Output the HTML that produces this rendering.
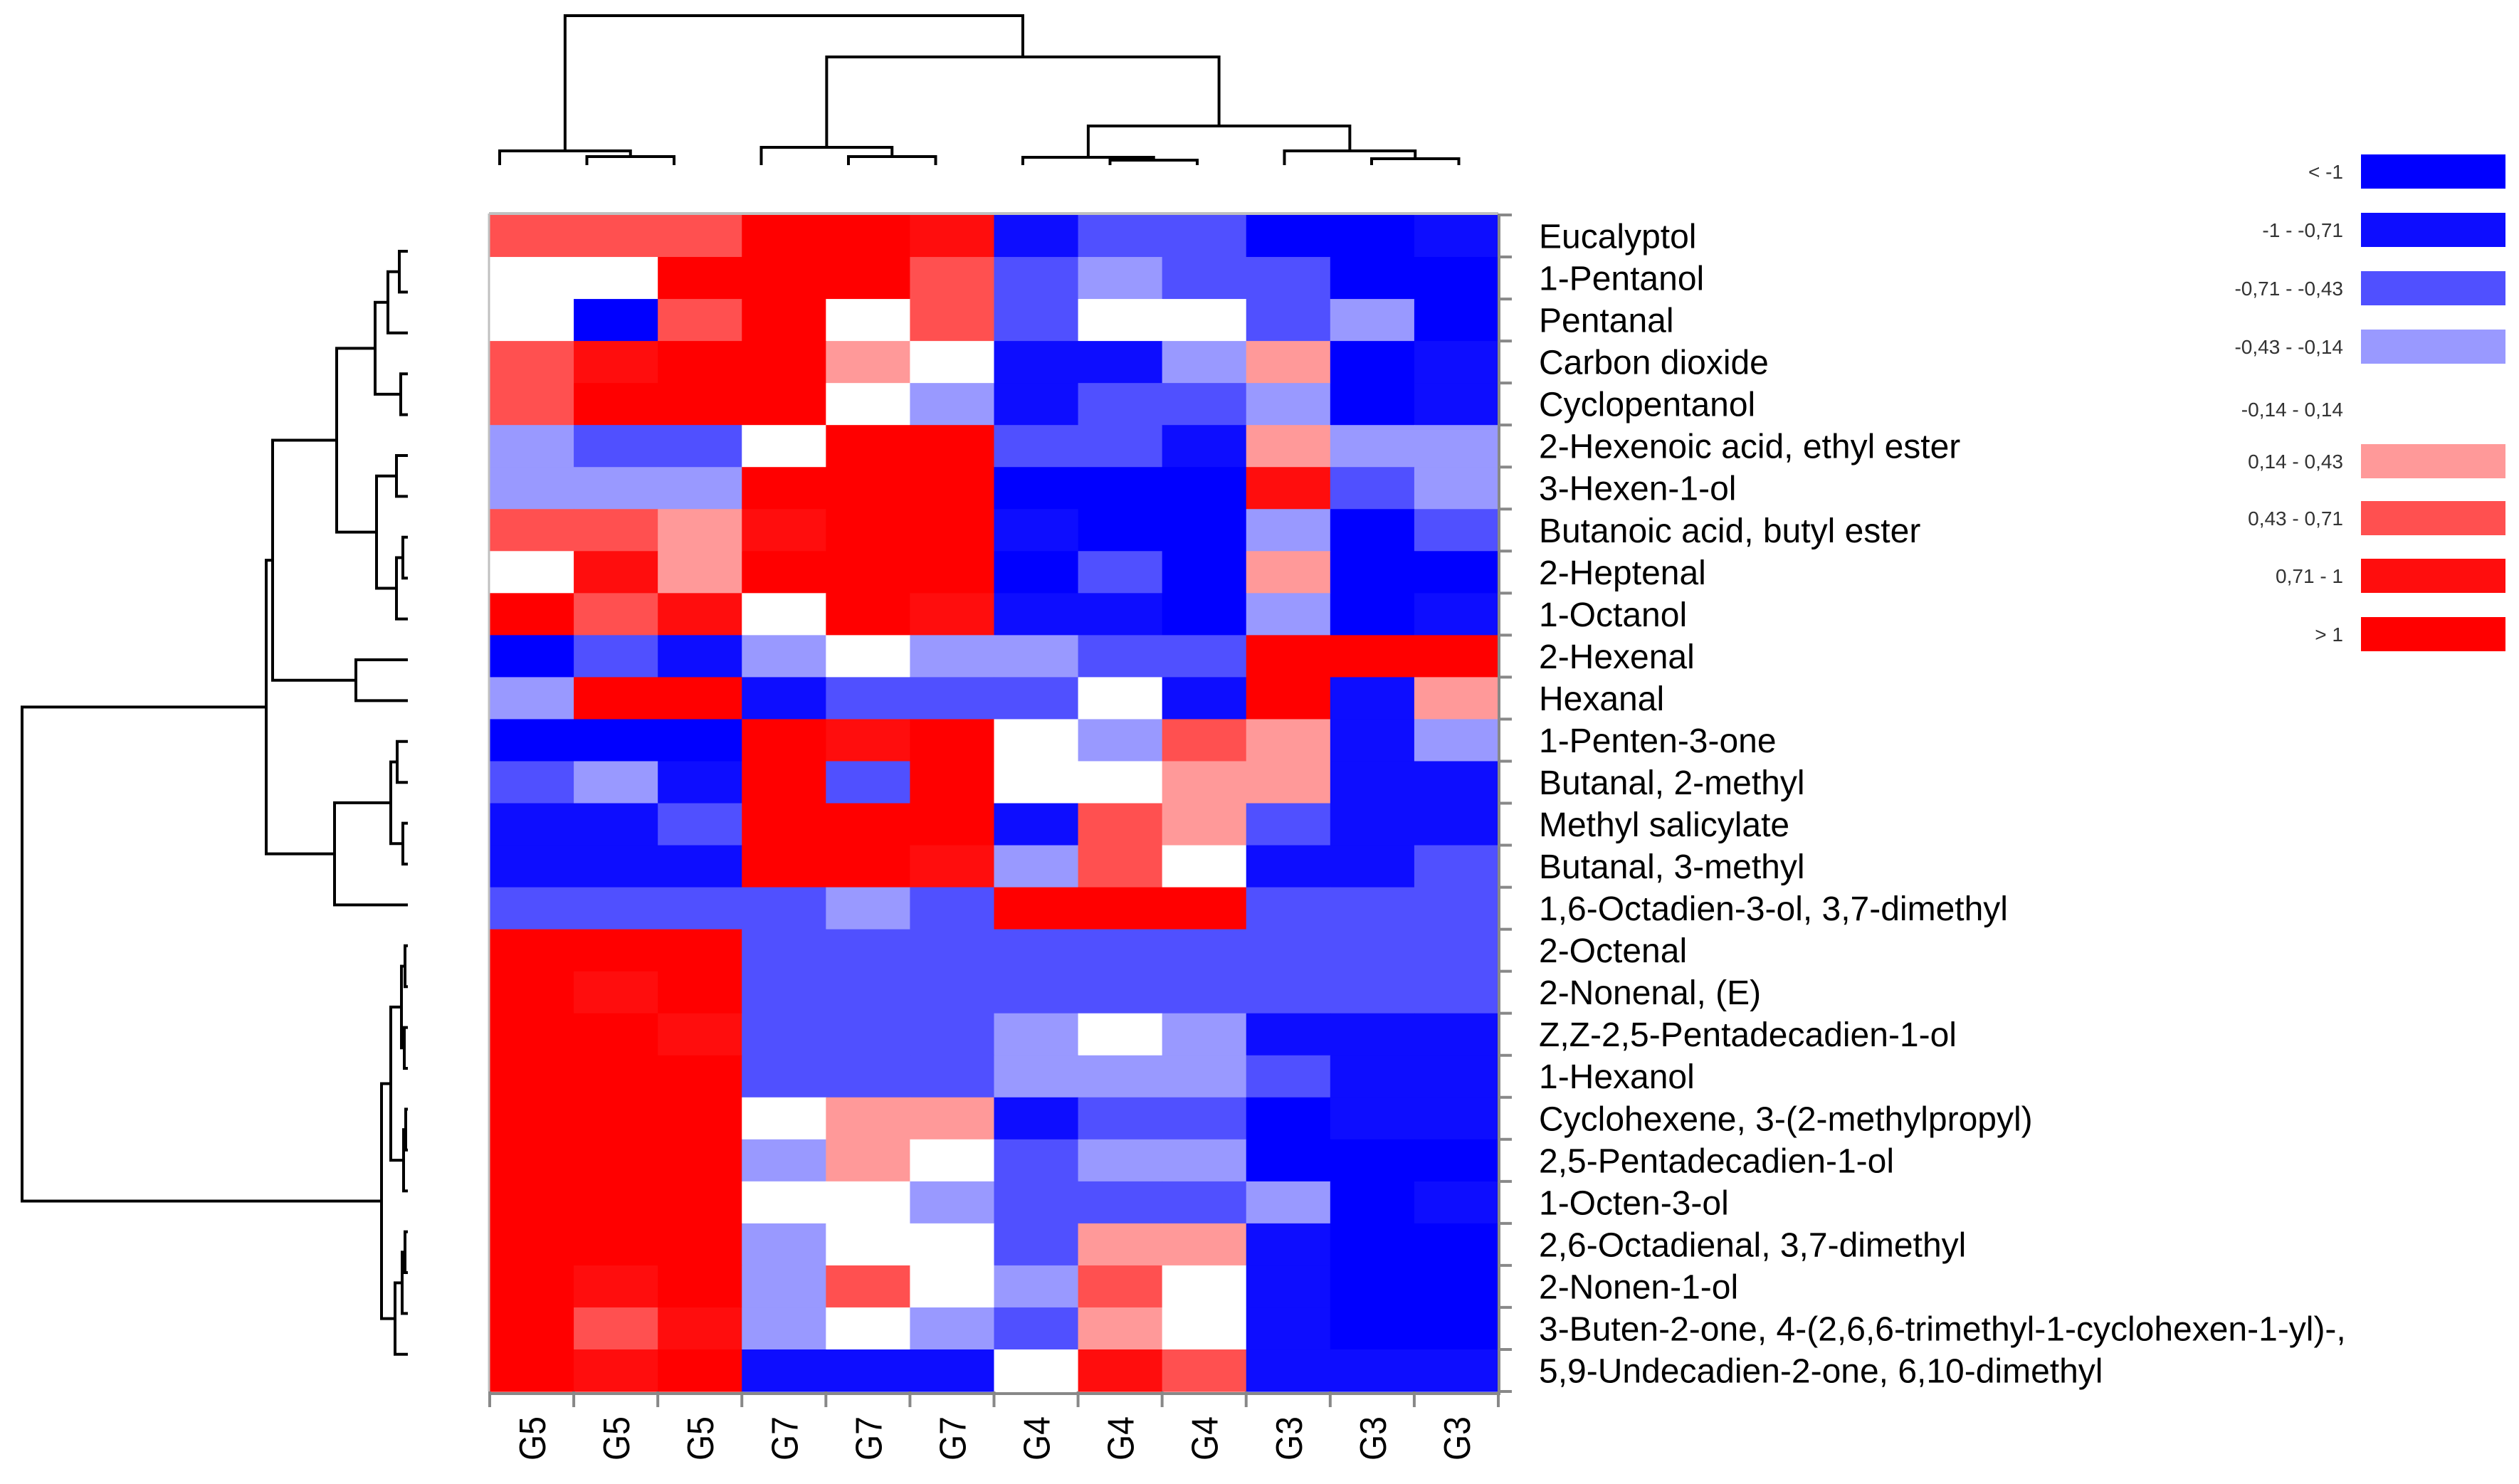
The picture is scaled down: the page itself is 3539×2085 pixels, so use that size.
<!DOCTYPE html>
<html><head><meta charset="utf-8"><title>Heatmap</title>
<style>html,body{margin:0;padding:0;background:#fff}svg{display:block}</style></head>
<body>
<svg id="chart" xmlns="http://www.w3.org/2000/svg" width="3539" height="2085" viewBox="0 0 3539 2085"></svg>
<script>
const rowLabels = ["Eucalyptol","1-Pentanol","Pentanal","Carbon dioxide","Cyclopentanol","2-Hexenoic acid, ethyl ester","3-Hexen-1-ol","Butanoic acid, butyl ester","2-Heptenal","1-Octanol","2-Hexenal","Hexanal","1-Penten-3-one","Butanal, 2-methyl","Methyl salicylate","Butanal, 3-methyl","1,6-Octadien-3-ol, 3,7-dimethyl","2-Octenal","2-Nonenal, (E)","Z,Z-2,5-Pentadecadien-1-ol","1-Hexanol","Cyclohexene, 3-(2-methylpropyl)","2,5-Pentadecadien-1-ol","1-Octen-3-ol","2,6-Octadienal, 3,7-dimethyl","2-Nonen-1-ol","3-Buten-2-one, 4-(2,6,6-trimethyl-1-cyclohexen-1-yl)-,","5,9-Undecadien-2-one, 6,10-dimethyl"];
const colLabels = ["G5","G5","G5","G7","G7","G7","G4","G4","G4","G3","G3","G3"];
const legendLabels = ["< -1","-1 - -0,71","-0,71 - -0,43","-0,43 - -0,14","-0,14 - 0,14","0,14 - 0,43","0,43 - 0,71","0,71 - 1","> 1"];
const legendThresholds = [-1,-0.71,-0.43,-0.14,0.14,0.43,0.71,1];
const A=-1.2,B=-0.85,C=-0.57,D=-0.28,O=0,E=0.28,F=0.57,G=0.85,H=1.2;
const values = [
[F,F,F,H,H,G,B,C,C,A,A,B],
[O,O,H,H,H,F,C,D,C,C,A,A],
[O,A,F,H,O,F,C,O,O,C,D,A],
[F,G,H,H,E,O,B,B,D,E,A,B],
[F,H,H,H,O,D,B,C,C,D,A,B],
[D,C,C,O,H,H,C,C,B,E,D,D],
[D,D,D,H,H,H,A,A,A,G,C,D],
[F,F,E,G,H,H,B,A,A,D,A,C],
[O,G,E,H,H,H,A,C,A,E,A,A],
[H,F,G,O,H,G,B,B,A,D,A,B],
[A,C,B,D,O,D,D,C,C,H,H,H],
[D,H,H,B,C,C,C,O,B,H,B,E],
[A,A,A,H,G,H,O,D,F,E,B,D],
[C,D,B,H,C,H,O,O,E,E,B,B],
[B,B,C,H,H,H,B,F,E,C,B,B],
[B,B,B,H,H,G,D,F,O,B,B,C],
[C,C,C,C,D,C,H,H,H,C,C,C],
[H,H,H,C,C,C,C,C,C,C,C,C],
[H,G,H,C,C,C,C,C,C,C,C,C],
[H,H,G,C,C,C,D,O,D,B,B,B],
[H,H,H,C,C,C,D,D,D,C,B,B],
[H,H,H,O,E,E,B,C,C,A,B,B],
[H,H,H,D,E,O,C,D,D,A,A,A],
[H,H,H,O,O,D,C,C,C,D,A,B],
[H,H,H,D,O,O,C,E,E,B,A,A],
[H,G,H,D,F,O,D,F,O,B,A,A],
[H,F,G,D,O,D,C,E,O,B,A,A],
[H,G,H,B,B,B,O,G,F,B,B,B]];
// dendrogram merges: [childA, childB, distance]
const rowMerges = [[0,1,1.0],[28,2,2.6],[3,4,0.8],[29,30,4.4],[5,6,1.4],[7,8,0.5],[33,9,1.4],[32,34,4.2],[31,35,9.8],[10,11,7.1],[36,37,18.8],[12,13,1.3],[14,15,0.5],[39,40,2.2],[41,16,10.1],[38,42,19.7],[17,18,0.2],[19,20,0.3],[44,45,0.7],[21,22,0.1],[47,23,0.4],[46,48,2.2],[24,25,0.2],[50,26,0.6],[51,27,1.6],[49,52,3.5],[43,53,54]];
const colMerges = [[1,2,1.0],[0,12,1.8],[4,5,1.0],[3,14,2.3],[7,8,0.5],[6,16,0.9],[10,11,0.7],[9,18,1.8],[17,19,5.3],[15,20,15],[13,21,20.8]];

const NS="http://www.w3.org/2000/svg";
const svg=document.getElementById('chart');
function mk(tag,attrs,parent){const e=document.createElementNS(NS,tag);for(const k in attrs)e.setAttribute(k,attrs[k]);(parent||svg).appendChild(e);return e;}
const colors=["#0000ff","#0d0dff","#5050ff","#9999ff","#ffffff","#ff9999","#ff5050","#ff0d0d","#ff0000"];
function colorOf(v){let i=0;while(i<legendThresholds.length&&v>=legendThresholds[i])i++;return colors[i];}
const hx0=688,hx1=2105,hy0=302,hy1=1955;
const cw=(hx1-hx0)/colLabels.length, rh=(hy1-hy0)/rowLabels.length;
const xScale=i=>hx0+i*cw, yScale=i=>hy0+i*rh;

const gCells=mk('g',{});


values.forEach((row,r)=>row.forEach((v,c)=>{
  const rc=mk('rect',{x:xScale(c),y:yScale(r),width:cw+0.6,height:rh+0.6,fill:colorOf(v)},gCells);
  
  
}));
// borders
mk('line',{x1:hx0-1,y1:hy0-2,x2:hx1,y2:hy0-2,stroke:'#c0c0c0','stroke-width':4});
mk('line',{x1:hx0-1,y1:hy0-2,x2:hx0-1,y2:hy1,stroke:'#c0c0c0','stroke-width':3});
const ax=mk('g',{stroke:'#888','stroke-width':4});


mk('line',{x1:hx1+1,y1:hy0-2,x2:hx1+1,y2:hy1+4},ax);
mk('line',{x1:hx0-1,y1:hy1+3,x2:hx1+3,y2:hy1+3},ax);
for(let r=0;r<=rowLabels.length;r++)mk('line',{x1:hx1,y1:yScale(r),x2:hx1+19,y2:yScale(r)},ax);
for(let c=0;c<=colLabels.length;c++)mk('line',{x1:xScale(c),y1:hy1,x2:xScale(c),y2:hy1+22},ax);
// row labels
rowLabels.forEach((t,r)=>{
  const el=mk('text',{x:2162,y:yScale(r)+rh/2+17,'font-family':'Liberation Sans, sans-serif','font-size':48,fill:'#000'});
  el.textContent=t;
  
  
});
colLabels.forEach((t,c)=>{
  const cx=xScale(c)+cw/2+19;
  const el=mk('text',{x:0,y:0,transform:`translate(${cx},1990) rotate(-90)`,'text-anchor':'end','font-family':'Liberation Sans, sans-serif','font-size':52,textLength:62,lengthAdjust:'spacingAndGlyphs',fill:'#000'});
  el.textContent=t;
  
  
});
// dendrograms
function drawDendro(merges,nLeaves,leafPos,depthPos,horizontal,name){
  const g=mk('g',{stroke:'#000','stroke-width':4,fill:'none','stroke-linecap':'square'});
  
  
  const pos=[],dep=[];
  for(let i=0;i<nLeaves;i++){pos.push(leafPos(i));dep.push(depthPos(0));}
  merges.forEach(m=>{
    const a=m[0],b=m[1],d=depthPos(m[2]);
    let p;
    if(horizontal) p=`M${dep[a]},${pos[a]} H${d} V${pos[b]} H${dep[b]}`;
    else p=`M${pos[a]},${dep[a]} V${d} H${pos[b]} V${dep[b]}`;
    mk('path',{d:p},g);
    pos.push((pos[a]+pos[b])/2);dep.push(d);
  });
}
drawDendro(rowMerges,rowLabels.length,i=>353+57.4*i,d=>571-d*10,true,'row-dendrogram');
drawDendro(colMerges,colLabels.length,i=>702+122.5*i,d=>230-d*10,false,'column-dendrogram');
// legend
const legY=[241,323,405,487,575,648,728,809,891];
legendLabels.forEach((t,i)=>{
  const el=mk('text',{x:3292,y:legY[i]+10,'text-anchor':'end','font-family':'Liberation Sans, sans-serif','font-size':28,fill:'#333'});
  el.textContent=t;
  
  
  if(i!==4){
    const s=mk('rect',{x:3317,y:legY[i]-24,width:203,height:48,fill:colors[i]});
    
    
  }
});
</script>
</body></html>
